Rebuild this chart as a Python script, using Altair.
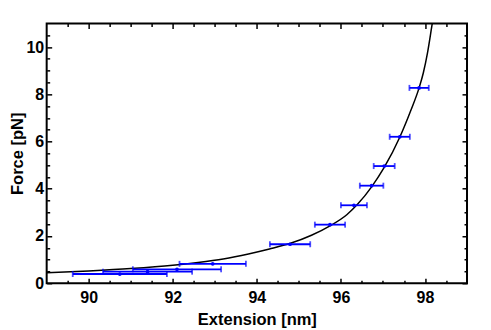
import altair as alt
import pandas as pd

# Measured data points (extension in nm, force in pN, horizontal error in nm)
ext = [90.74, 91.40, 92.10, 92.95, 94.79, 95.74, 96.31, 96.73, 97.03, 97.40, 97.86]
force = [0.39, 0.49, 0.59, 0.82, 1.65, 2.48, 3.30, 4.13, 4.96, 6.20, 8.27]
ext_err = [1.12, 1.06, 1.05, 0.79, 0.48, 0.36, 0.31, 0.28, 0.25, 0.24, 0.23]

# Fitted curve
curve_x = [89.0, 90.0, 91.0, 92.0, 92.6, 93.2, 93.8, 94.3, 94.8, 95.3,
           95.74, 96.14, 96.4, 96.73, 97.03, 97.4, 97.66, 97.86, 97.96, 98.06, 98.16, 98.2]
curve_f = [0.44, 0.52, 0.62, 0.76, 0.88, 1.03, 1.24, 1.45, 1.69, 2.03,
           2.43, 2.90, 3.35, 4.08, 4.90, 6.18, 7.30, 8.27, 8.90, 9.75, 10.85, 11.3]

x_major = [90, 92, 94, 96, 98]
x_minor = [89.5, 90.5, 91, 91.5, 92.5, 93, 93.5, 94.5, 95, 95.5, 96.5, 97, 97.5, 98.5]
y_major = [0, 2, 4, 6, 8, 10]
y_minor = [0.5, 1, 1.5, 2.5, 3, 3.5, 4.5, 5, 5.5, 6.5, 7, 7.5, 8.5, 9, 9.5, 10.5]

W = 420.6
H = 260.0
FONT = "Liberation Sans"
BLUE = "#0000ff"

pts = pd.DataFrame({"ext": ext, "force": force, "err": ext_err})
curve = pd.DataFrame({"x": curve_x, "f": curve_f})

xs = alt.Scale(domain=[89, 99], nice=False, zero=False)
ys = alt.Scale(domain=[0, 11], nice=False, zero=False)


def tick_axis(orient, values, size, offset):
    # axis drawn on the opposite edge so its ticks point into the plot
    return alt.Axis(orient=orient, values=values, offset=offset, labels=False,
                    domain=False, grid=False, title=None, ticks=True,
                    tickSize=size, tickColor="black", tickWidth=1.5,
                    tickOpacity=1, zindex=5)


ax_bottom = alt.Axis(orient="bottom", values=x_major, ticks=False, domain=False,
                     grid=False, labelFont=FONT, labelFontSize=16,
                     labelFontWeight="bold", labelColor="black", labelPadding=6,
                     title="Extension [nm]", titleFont=FONT, titleFontSize=16.5,
                     titleFontWeight="bold", titleColor="black", titlePadding=6)
ax_left = alt.Axis(orient="left", values=y_major, ticks=False, domain=False,
                   grid=False, labelFont=FONT, labelFontSize=16,
                   labelFontWeight="bold", labelColor="black", labelPadding=3,
                   title="Force [pN]", titleFont=FONT, titleFontSize=16.5,
                   titleFontWeight="bold", titleColor="black", titlePadding=0)

line = alt.Chart(curve).mark_line(color="black", strokeWidth=1.5, clip=True,
                                  interpolate="monotone").encode(
    x=alt.X("x:Q", scale=xs, axis=ax_bottom),
    y=alt.Y("f:Q", scale=ys, axis=ax_left),
)

base = alt.Chart(pts).transform_calculate(
    lo="datum.ext - datum.err", hi="datum.ext + datum.err"
)

bars = base.mark_rule(color=BLUE, strokeWidth=1.8).encode(
    x=alt.X("lo:Q", scale=xs, axis=tick_axis("top", x_major, 5, -H)),
    x2="hi:Q",
    y=alt.Y("force:Q", scale=ys, axis=tick_axis("right", y_major, 5, -W)),
)

caps_lo = base.mark_tick(orient="vertical", color=BLUE, thickness=1.8, size=6).encode(
    x=alt.X("lo:Q", scale=xs, axis=tick_axis("top", x_minor, 3, -H)),
    y=alt.Y("force:Q", scale=ys, axis=tick_axis("right", y_minor, 3, -W)),
)

caps_hi = base.mark_tick(orient="vertical", color=BLUE, thickness=1.8, size=6).encode(
    x=alt.X("hi:Q", scale=xs, axis=tick_axis("bottom", x_major, 5, -H)),
    y=alt.Y("force:Q", scale=ys, axis=tick_axis("left", y_major, 5, -W)),
)

points = base.mark_circle(color=BLUE, size=14, opacity=1).encode(
    x=alt.X("ext:Q", scale=xs, axis=tick_axis("bottom", x_minor, 3, -H)),
    y=alt.Y("force:Q", scale=ys, axis=tick_axis("left", y_minor, 3, -W)),
)

chart = alt.layer(line, bars, caps_lo, caps_hi, points).resolve_axis(
    x="independent", y="independent"
).properties(
    width=W, height=H,
    autosize=alt.AutoSizeParams(type="none"),
    padding={"left": 38.7, "top": 15.3, "right": 16, "bottom": 44.7},
).configure_view(stroke="black", strokeWidth=2)

chart.save("out.html", embed_options={"renderer": "svg", "actions": False})
